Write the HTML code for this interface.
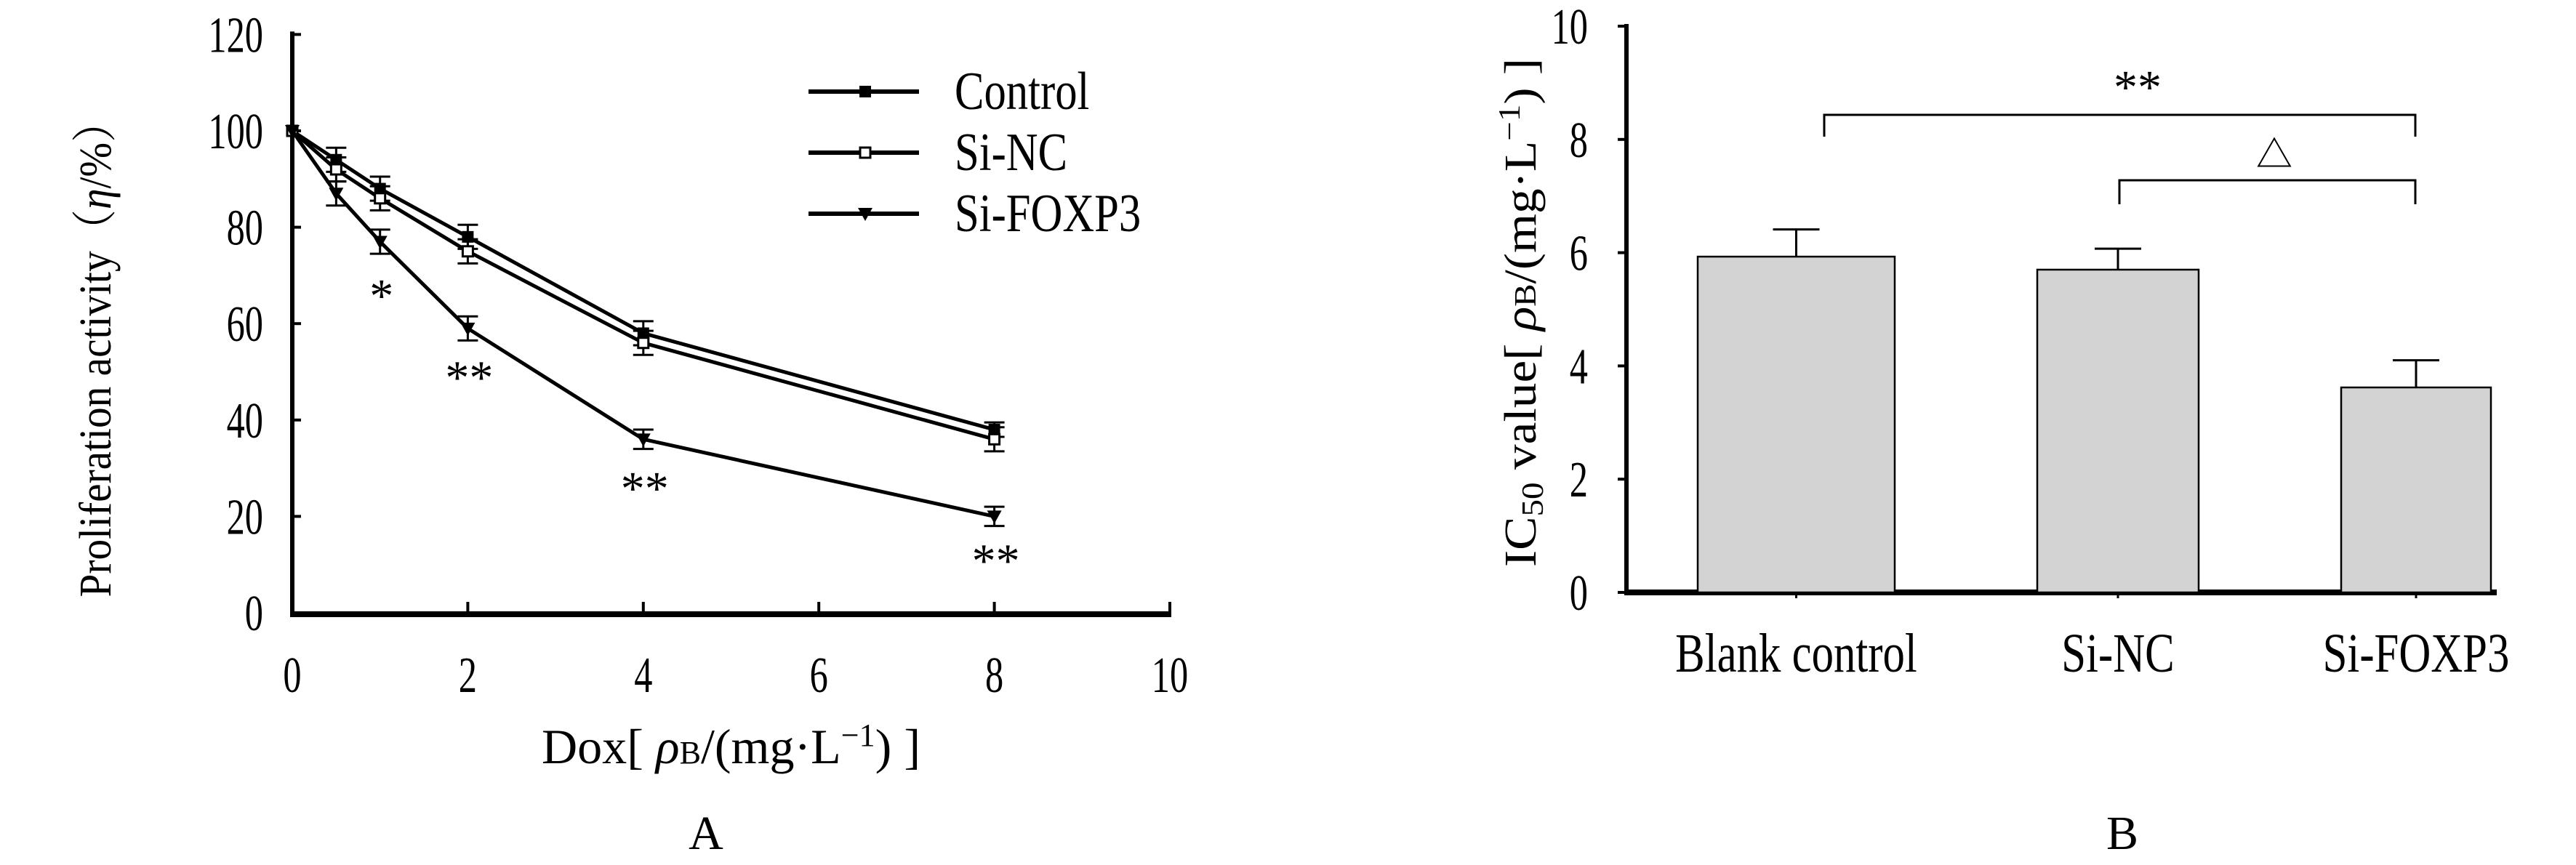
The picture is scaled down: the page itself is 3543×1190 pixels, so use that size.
<!DOCTYPE html>
<html><head><meta charset="utf-8"><style>
html,body{margin:0;padding:0;background:#fff;}
svg, svg text{font-family:"Liberation Serif","Noto Serif CJK SC",serif;}
svg{display:block;}
</style></head><body>
<svg id="fig" width="3543" height="1190" viewBox="0 0 3543 1190" xmlns="http://www.w3.org/2000/svg" font-family="Liberation Serif, serif">
<g id="chartA"></g>
<g id="chartB"></g>
</svg>
<script>
// ---------- Chart A data ----------
const doses = [0, 0.5, 1, 2, 4, 8];
const controlVals = [100, 94, 88, 78, 58, 38];
const siNcVals = [100, 92, 86, 75, 56, 36];
const foxp3Vals = [100, 87, 77, 59, 36, 20];
const controlErr = [0, 2.5, 2.5, 2.5, 2.5, 1.5];
const siNcErr = [0, 2.5, 2.5, 2.5, 2.5, 2.5];
const foxp3Err = [0, 2.5, 2.5, 2.5, 2, 2];
const xTicksA = [0, 2, 4, 6, 8, 10];
const yTicksA = [0, 20, 40, 60, 80, 100, 120];
const starDoses = [1, 2, 4, 8];
const starVals = [67, 50, 27, 12];
const starLabels = ["*", "**", "**", "**"];
// ---------- Chart B data ----------
const groups = ["Blank control", "Si-NC", "Si-FOXP3"];
const ic50Vals = [5.93, 5.7, 3.62];
const ic50Err = [0.48, 0.37, 0.48];
const yTicksB = [0, 2, 4, 6, 8, 10];

const NS = "http://www.w3.org/2000/svg";
function mk(parent, tag, attrs, text){
  const e = document.createElementNS(NS, tag);
  for (const k in attrs) e.setAttribute(k, attrs[k]);
  if (text !== undefined) e.textContent = text;
  parent.appendChild(e);
  return e;
}
function sx(cx, s){ return `translate(${cx} 0) scale(${s} 1) translate(${-cx} 0)`; }
// ===== Chart A =====
const A = document.getElementById('chartA');
const xA = v => 402 + v * 120.7;
const yA = v => 843 - v * 6.63;
const ax = mk(A, 'line', {x1:402, y1:yA(120)-4, x2:402, y2:847, stroke:'#000','stroke-width':6});


const axx = mk(A, 'line', {x1:399, y1:845, x2:xA(10)+2, y2:845, stroke:'#000','stroke-width':8});


yTicksA.forEach(t => {
  mk(A, 'line', {x1:402, y1:yA(t), x2:414, y2:yA(t), stroke:'#000','stroke-width':4});
  const tl = mk(A, 'text', {x:362, y:yA(t)+24, 'font-size':70, 'text-anchor':'end', transform:sx(362, 0.72)}, String(t));
  
  
});
xTicksA.forEach(t => {
  if (t > 0) mk(A, 'line', {x1:xA(t), y1:843, x2:xA(t), y2:828, stroke:'#000','stroke-width':4});
  const cx = xA(t);
  const tl = mk(A, 'text', {x:cx, y:952, 'font-size':70, 'text-anchor':'middle', transform:sx(cx, 0.72)}, String(t));
  
  
});
const series = [
  {name:'control', vals:controlVals, err:controlErr, marker:'square'},
  {name:'si-nc', vals:siNcVals, err:siNcErr, marker:'open'},
  {name:'si-foxp3', vals:foxp3Vals, err:foxp3Err, marker:'tri'}
];
function marker(g, type, x, y){
  if (type === 'square') mk(g, 'rect', {x:x-8, y:y-8, width:16, height:16, fill:'#000'});
  else if (type === 'open') mk(g, 'rect', {x:x-7, y:y-7, width:14, height:14, fill:'#fff', stroke:'#000','stroke-width':3});
  else mk(g, 'path', {d:`M${x-10} ${y-8} L${x+10} ${y-8} L${x} ${y+10} Z`, fill:'#000'});
}
series.forEach(s => {
  const g = mk(A, 'g', {});
  
  
  const pts = doses.map((d,i) => xA(d) + ',' + yA(s.vals[i])).join(' ');
  const pl = mk(g, 'polyline', {points:pts, fill:'none', stroke:'#000','stroke-width':5});
  
  
  doses.forEach((d,i) => {
    const x = xA(d), e = s.err[i];
    if (e > 0) {
      mk(g, 'line', {x1:x, y1:yA(s.vals[i]+e), x2:x, y2:yA(s.vals[i]-e), stroke:'#000','stroke-width':3});
      mk(g, 'line', {x1:x-14, y1:yA(s.vals[i]+e), x2:x+14, y2:yA(s.vals[i]+e), stroke:'#000','stroke-width':3});
      mk(g, 'line', {x1:x-14, y1:yA(s.vals[i]-e), x2:x+14, y2:yA(s.vals[i]-e), stroke:'#000','stroke-width':3});
    }
    const mg = mk(g, 'g', {});
    
    
    marker(mg, s.marker, x, yA(s.vals[i]));
  });
});
starDoses.forEach((d,i) => {
  const st = mk(A, 'text', {x:xA(d)+2, y:yA(starVals[i])+30, 'font-size':66, 'text-anchor':'middle'}, starLabels[i]);
  
  
});
// legend
const legLabels = ['Control', 'Si-NC', 'Si-FOXP3'];
legLabels.forEach((lab,i) => {
  const y = 126 + i*84;
  const lg = mk(A, 'g', {});
  
  
  mk(lg, 'line', {x1:1112, y1:y, x2:1264, y2:y, stroke:'#000','stroke-width':6});
  marker(lg, series[i].marker, 1190, y);
  mk(lg, 'text', {x:1313, y:y+24, 'font-size':74, transform:sx(1313, 0.82)}, lab);
});
const yt = mk(A, 'text', {x:0, y:0, 'font-size':62, 'text-anchor':'middle', transform:'translate(152 480) rotate(-90)', textLength:683, lengthAdjust:'spacingAndGlyphs'});


yt.innerHTML = 'Proliferation activity（<tspan font-style="italic">η</tspan>/%）';
const xt = mk(A, 'text', {x:745, y:1050, 'font-size':68, textLength:521, lengthAdjust:'spacingAndGlyphs'});


xt.innerHTML = 'Dox[ <tspan font-style="italic">ρ</tspan><tspan font-size="44">B</tspan>/(mg·L<tspan font-size="44" dy="-24">−1</tspan><tspan dy="24">) ]</tspan>';
const la = mk(A, 'text', {x:971, y:1168, 'font-size':66, 'text-anchor':'middle'}, 'A');



// ===== Chart B =====
const B = document.getElementById('chartB');
const yB = v => 815 - v * 77.9;
const axB = 2237;
const barLefts = [2335, 2802, 3220];
const barWidths = [271, 222, 206];
const bya = mk(B, 'line', {x1:axB, y1:yB(10)-3, x2:axB, y2:817, stroke:'#000','stroke-width':6});


const bxa = mk(B, 'line', {x1:axB-3, y1:815, x2:3434, y2:815, stroke:'#000','stroke-width':8});


yTicksB.forEach(t => {
  mk(B, 'line', {x1:axB-12, y1:yB(t), x2:axB, y2:yB(t), stroke:'#000','stroke-width':4});
  const tl = mk(B, 'text', {x:2184, y:yB(t)+24, 'font-size':70, 'text-anchor':'end', transform:sx(2184, 0.72)}, String(t));
  
  
});
groups.forEach((gname,i) => {
  const left = barLefts[i], w = barWidths[i];
  const cx = left + w/2;
  const g = mk(B, 'g', {});
  
  
  const v = ic50Vals[i], e = ic50Err[i];
  mk(g, 'line', {x1:cx, y1:yB(v), x2:cx, y2:yB(v+e), stroke:'#000','stroke-width':3});
  mk(g, 'line', {x1:cx-32, y1:yB(v+e), x2:cx+32, y2:yB(v+e), stroke:'#000','stroke-width':3});
  mk(g, 'rect', {x:left, y:yB(v), width:w, height:815-yB(v), fill:'#d3d3d3', stroke:'#000','stroke-width':2.5});
  mk(B, 'line', {x1:cx, y1:815, x2:cx, y2:823, stroke:'#000','stroke-width':3});
  const tl = mk(B, 'text', {x:cx, y:924, 'font-size':76, 'text-anchor':'middle', transform:sx(cx, 0.8)}, gname);
  
  
});
const br1 = mk(B, 'path', {d:'M2509 188 L2509 158 L3322 158 L3322 188', fill:'none', stroke:'#000','stroke-width':3});


const br2 = mk(B, 'path', {d:'M2915 281 L2915 248 L3322 248 L3322 281', fill:'none', stroke:'#000','stroke-width':3});


const s1 = mk(B, 'text', {x:2940, y:142, 'font-size':66, 'text-anchor':'middle'}, '**');


const s2 = mk(B, 'text', {x:3128, y:230, 'font-size':50, 'text-anchor':'middle'}, '△');


const ybt = mk(B, 'text', {x:0, y:0, 'font-size':62, 'text-anchor':'middle', transform:'translate(2112 430) rotate(-90)', textLength:700, lengthAdjust:'spacingAndGlyphs'});


ybt.innerHTML = 'IC<tspan font-size="42" dy="10">50</tspan><tspan dy="-10"> value[ </tspan><tspan font-style="italic">ρ</tspan><tspan font-size="42">B</tspan>/(mg·L<tspan font-size="42" dy="-22">−1</tspan><tspan dy="22">) ]</tspan>';
const lb = mk(B, 'text', {x:2919, y:1168, 'font-size':66, 'text-anchor':'middle'}, 'B');


</script>
</body></html>
